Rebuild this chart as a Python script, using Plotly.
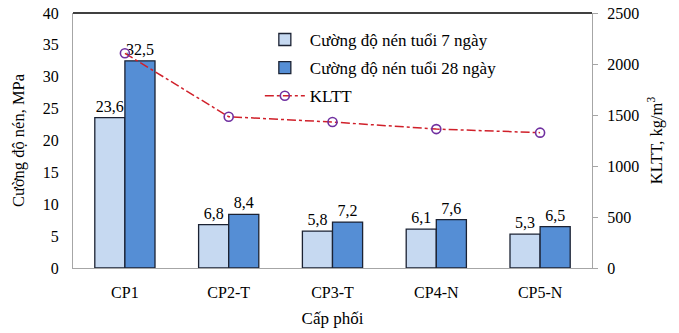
import plotly.graph_objects as go

categories = ["CP1", "CP2-T", "CP3-T", "CP4-N", "CP5-N"]
strength_7d = [23.6, 6.8, 5.8, 6.1, 5.3]
strength_28d = [32.5, 8.4, 7.2, 7.6, 6.5]
density = [2105, 1483, 1431, 1362, 1327]

FONT = "Liberation Serif, Times New Roman, serif"


def vn(v):
    return f"{v:.1f}".replace(".", ",")


fig = go.Figure()
fig.add_trace(go.Bar(
    x=categories, y=strength_7d, name="Cường độ nén tuổi 7 ngày",
    legendgroup="a",
    marker=dict(color="#C6D9F1", line=dict(color="#1B2233", width=1.3)),
    text=[vn(v) for v in strength_7d], textposition="outside",
    textfont=dict(size=16, color="black"), cliponaxis=False,
))
fig.add_trace(go.Bar(
    x=categories, y=strength_28d, name="Cường độ nén tuổi 28 ngày",
    legendgroup="b",
    marker=dict(color="#558ED5", line=dict(color="#1B2233", width=1.3)),
    text=[vn(v) for v in strength_28d], textposition="outside",
    textfont=dict(size=16, color="black"), cliponaxis=False,
))
fig.add_trace(go.Scatter(
    x=categories, y=density, name="KLTT", yaxis="y2", mode="lines+markers",
    legendgroup="c",
    line=dict(color="#D0202A", width=1.5, dash="dashdot"),
    marker=dict(symbol="circle-open", size=9, color="#7030A0",
                line=dict(color="#7030A0", width=1.6)),
    cliponaxis=False,
))

fig.update_layout(
    width=679, height=333,
    margin=dict(l=73, r=87, t=13, b=65),
    paper_bgcolor="white", plot_bgcolor="white",
    font=dict(family=FONT, size=16, color="black"),
    barmode="group", bargap=0.42, bargroupgap=0,
    showlegend=True,
    legend=dict(x=0.36, y=0.965, xanchor="left", yanchor="top",
                bgcolor="rgba(0,0,0,0)", font=dict(size=17),
                tracegroupgap=3, itemwidth=40),
    xaxis=dict(
        automargin=False,
        showline=True, linecolor="#A6A6A6", linewidth=1, ticks="",
        tickfont=dict(size=16), ticklabelstandoff=10,
        title=dict(text="Cấp phối", font=dict(size=17), standoff=11),
    ),
    yaxis=dict(
        automargin=False,
        range=[0, 40], dtick=5, showgrid=False, zeroline=False,
        showline=True, linecolor="#A6A6A6", linewidth=1, ticks="",
        tickfont=dict(size=16), ticklabelstandoff=10,
        title=dict(text="Cường độ nén, MPa", font=dict(size=16.5), standoff=14),
    ),
    yaxis2=dict(
        automargin=False,
        range=[0, 2500], dtick=500, overlaying="y", side="right",
        showgrid=False, zeroline=False,
        showline=True, linecolor="#A6A6A6", linewidth=1,
        ticks="outside", ticklen=5, tickcolor="#A6A6A6",
        tickfont=dict(size=16), ticklabelstandoff=6,
        title=dict(text="KLTT, kg/m<sup>3</sup>", font=dict(size=16.5), standoff=12),
    ),
    shapes=[dict(type="line", xref="paper", yref="paper", x0=0, x1=1, y0=1, y1=1,
                 line=dict(color="black", width=1.5))],
)

fig.write_html("out.html")
